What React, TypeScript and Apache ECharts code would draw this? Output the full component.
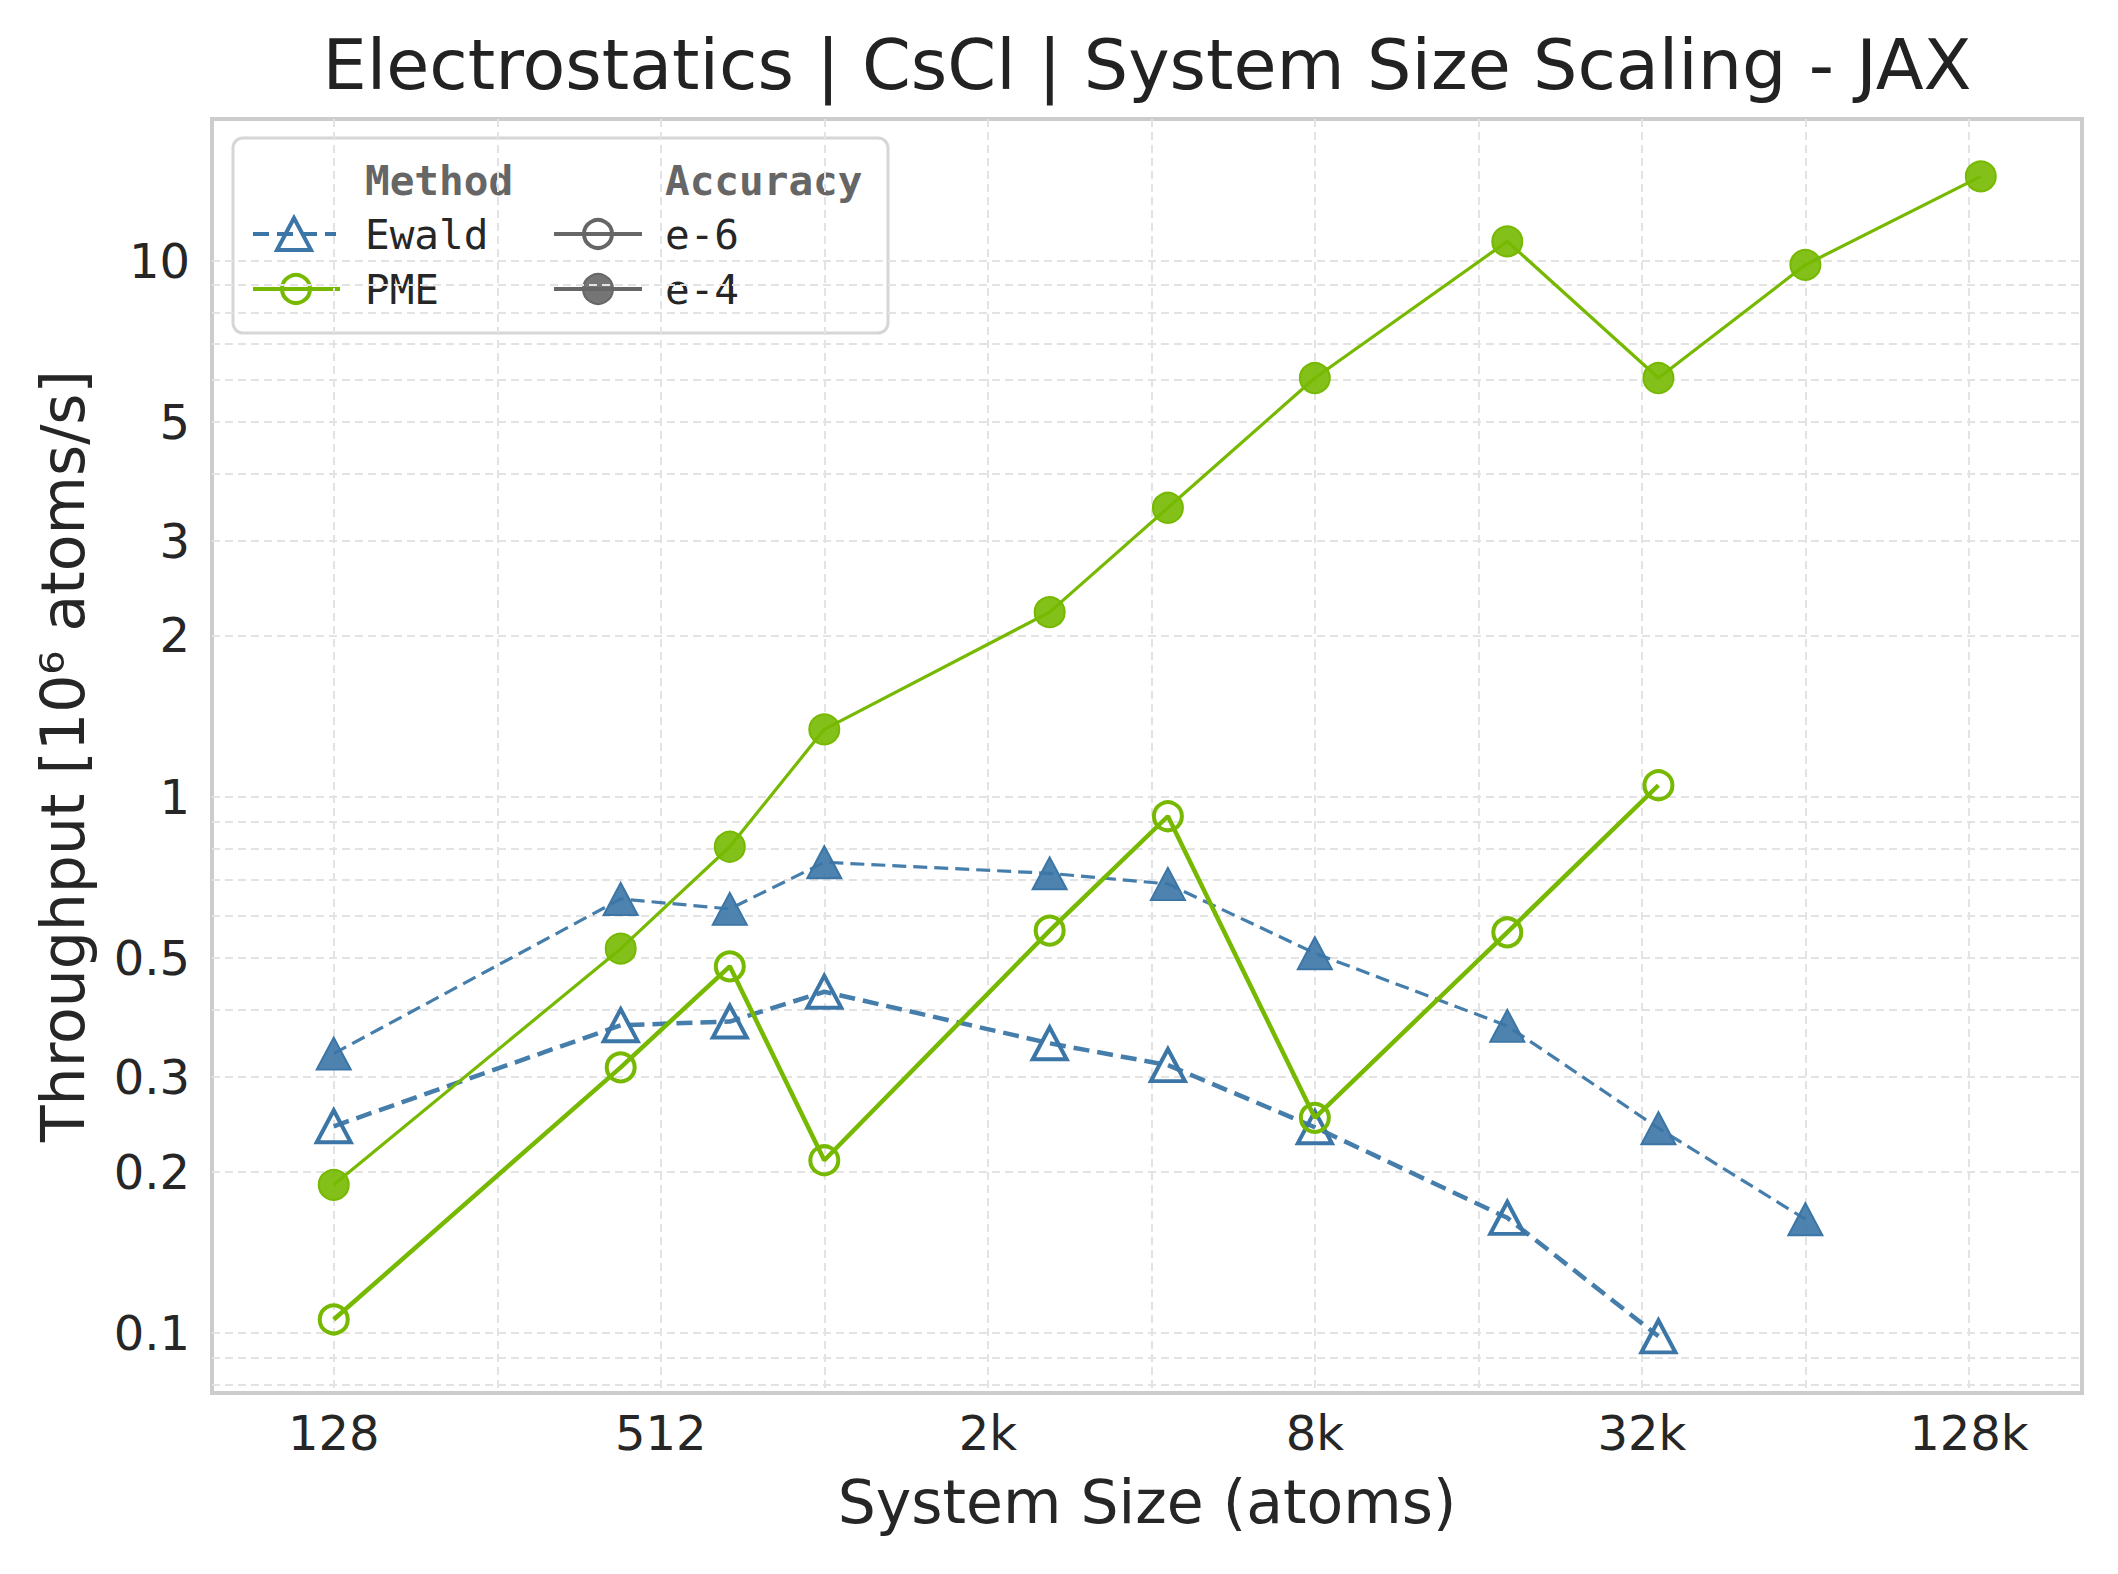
import React, { useEffect, useRef } from "react";
import * as echarts from "echarts";

// system sizes (atoms) for CsCl supercells
const sizes = [128, 432, 686, 1024, 2662, 4394, 8192, 18522, 35152, 65536, 137842];

// throughput in 10^6 atoms/s
const ewaldE6 = [0.243, 0.375, 0.381, 0.433, 0.347, 0.316, 0.242, 0.164, 0.0986];
const ewaldE4 = [0.332, 0.645, 0.618, 0.755, 0.72, 0.688, 0.511, 0.374, 0.241, 0.163];
const pmeE6 = [0.106, 0.313, 0.483, 0.21, 0.563, 0.92, 0.252, 0.559, 1.051];
const pmeE4 = [0.189, 0.521, 0.807, 1.336, 2.21, 3.46, 6.04, 10.86, 6.04, 9.82, 14.36];

const xTickLabels = [128, 512, 2048, 8192, 32768, 131072];
const xGridValues = [128, 256, 512, 1024, 2048, 4096, 8192, 16384, 32768, 65536, 131072];
const yTickLabels = [0.1, 0.2, 0.3, 0.5, 1, 2, 3, 5, 10];
const yGridValues = [
  0.08, 0.09, 0.1, 0.2, 0.3, 0.4, 0.5, 0.6, 0.7, 0.8, 0.9,
  1, 2, 3, 4, 5, 6, 7, 8, 9, 10,
];

const BLUE = "#3b76a6";
const GREEN = "#76b900";
const GRAY = "#666666";
const TEXT = "#262626";

const pairs = (ys: number[]) => ys.map((y, i) => [sizes[i], y]);

const App: React.FC = () => {
  const chartRef = useRef<HTMLDivElement>(null);

  useEffect(() => {
    if (!chartRef.current) return;
    document.body.style.margin = "0";
    const chart = echarts.init(chartRef.current, null, { renderer: "svg" });

    const gridLine = { show: true, lineStyle: { color: "#e3e3e3", width: 2, type: [8, 5] as any } };
    const mono = "'DejaVu Sans Mono', monospace";

    const option: echarts.EChartsOption = {
      animation: false,
      backgroundColor: "#ffffff",
      textStyle: { fontFamily: "'DejaVu Sans', sans-serif" },
      grid: {
        left: 212,
        right: 36,
        top: 119,
        bottom: 181,
        show: true,
        borderColor: "#cccccc",
        borderWidth: 4,
        backgroundColor: "#ffffff",
      },
      xAxis: {
        type: "log",
        logBase: 2,
        min: 76.4,
        max: 211700,
        axisLine: { show: false },
        axisTick: { show: false, customValues: xGridValues } as any,
        axisLabel: {
          customValues: xTickLabels,
          fontSize: 48,
          color: TEXT,
          margin: 16,
          formatter: (v: number) => (v >= 1024 ? `${Math.round(v / 1024)}k` : `${Math.round(v)}`),
        } as any,
        splitLine: gridLine,
        name: "System Size (atoms)",
        nameLocation: "middle",
        nameGap: 79,
        nameTextStyle: { fontSize: 60, color: TEXT },
      },
      yAxis: {
        type: "log",
        logBase: 10,
        min: 0.0773,
        max: 18.37,
        axisLine: { show: false },
        axisTick: { show: false, customValues: yGridValues } as any,
        axisLabel: {
          customValues: yTickLabels,
          fontSize: 48,
          color: TEXT,
          margin: 22,
          formatter: (v: number) => `${Number(v.toPrecision(3))}`,
        } as any,
        splitLine: gridLine,
        name: "Throughput [10\u2076 atoms/s]",
        nameLocation: "middle",
        nameGap: 119,
        nameTextStyle: { fontSize: 60, color: TEXT },
      },
      series: [
        {
          name: "Ewald e-6",
          type: "line",
          data: pairs(ewaldE6),
          symbol: "triangle",
          symbolSize: [34, 32],
          lineStyle: { color: BLUE, width: 4.5, type: [16, 8] as any, opacity: 0.95 },
          itemStyle: { color: "rgba(255,255,255,0)", borderColor: BLUE, borderWidth: 4 },
          silent: true,
          z: 2,
        },
        {
          name: "Ewald e-4",
          type: "line",
          data: pairs(ewaldE4),
          symbol: "triangle",
          symbolSize: [34, 32],
          lineStyle: { color: BLUE, width: 3.2, type: [14, 7] as any, opacity: 0.95 },
          itemStyle: { color: "rgba(59,118,166,0.9)", borderColor: BLUE, borderWidth: 2 },
          silent: true,
          z: 2,
        },
        {
          name: "PME e-6",
          type: "line",
          data: pairs(pmeE6),
          symbol: "circle",
          symbolSize: 28,
          lineStyle: { color: GREEN, width: 4.5 },
          itemStyle: { color: "rgba(255,255,255,0)", borderColor: GREEN, borderWidth: 4 },
          silent: true,
          z: 3,
        },
        {
          name: "PME e-4",
          type: "line",
          data: pairs(pmeE4),
          symbol: "circle",
          symbolSize: 30,
          lineStyle: { color: GREEN, width: 3.2 },
          itemStyle: { color: "rgba(118,185,0,0.9)", borderColor: GREEN, borderWidth: 2 },
          silent: true,
          z: 3,
        },
      ],
      graphic: [
        {
          type: "text",
          x: 1147,
          y: 65,
          style: {
            text: "Electrostatics | CsCl | System Size Scaling - JAX",
            fontSize: 70,
            fill: "#222222",
            align: "center",
            verticalAlign: "middle",
            fontFamily: "'DejaVu Sans', sans-serif",
          },
        },
        {
          type: "group",
          z: 100,
          children: [
            {
              type: "rect",
              shape: { x: 233, y: 138, width: 655, height: 195, r: 10 },
              style: { fill: "rgba(255,255,255,0.85)", stroke: "#d6d6d6", lineWidth: 3 },
            },
            {
              type: "text",
              x: 365,
              y: 181,
              style: { text: "Method", fontSize: 41, fontWeight: "bold", fill: GRAY, fontFamily: mono, verticalAlign: "middle" },
            },
            {
              type: "text",
              x: 665,
              y: 181,
              style: { text: "Accuracy", fontSize: 41, fontWeight: "bold", fill: GRAY, fontFamily: mono, verticalAlign: "middle" },
            },
            // Ewald entry
            {
              type: "line",
              shape: { x1: 253, y1: 234, x2: 336, y2: 234 },
              style: { stroke: BLUE, lineWidth: 4, lineDash: [16, 8] },
            },
            {
              type: "polygon",
              shape: { points: [[294, 218], [277, 250], [311, 250]] },
              style: { fill: "rgba(255,255,255,0)", stroke: BLUE, lineWidth: 4 },
            },
            {
              type: "text",
              x: 365,
              y: 235,
              style: { text: "Ewald", fontSize: 41, fill: TEXT, fontFamily: mono, verticalAlign: "middle" },
            },
            // PME entry
            {
              type: "line",
              shape: { x1: 253, y1: 289, x2: 340, y2: 289 },
              style: { stroke: GREEN, lineWidth: 4 },
            },
            {
              type: "circle",
              shape: { cx: 296, cy: 289, r: 14 },
              style: { fill: "rgba(255,255,255,0)", stroke: GREEN, lineWidth: 4 },
            },
            {
              type: "text",
              x: 365,
              y: 290,
              style: { text: "PME", fontSize: 41, fill: TEXT, fontFamily: mono, verticalAlign: "middle" },
            },
            // accuracy e-6
            {
              type: "line",
              shape: { x1: 554, y1: 234, x2: 642, y2: 234 },
              style: { stroke: GRAY, lineWidth: 4 },
            },
            {
              type: "circle",
              shape: { cx: 598, cy: 234, r: 14 },
              style: { fill: "rgba(255,255,255,0)", stroke: GRAY, lineWidth: 4 },
            },
            {
              type: "text",
              x: 665,
              y: 235,
              style: { text: "e-6", fontSize: 41, fill: TEXT, fontFamily: mono, verticalAlign: "middle" },
            },
            // accuracy e-4
            {
              type: "line",
              shape: { x1: 554, y1: 289, x2: 642, y2: 289 },
              style: { stroke: GRAY, lineWidth: 4 },
            },
            {
              type: "circle",
              shape: { cx: 598, cy: 289, r: 15 },
              style: { fill: "rgba(102,102,102,0.9)", stroke: GRAY, lineWidth: 2 },
            },
            {
              type: "text",
              x: 665,
              y: 290,
              style: { text: "e-4", fontSize: 41, fill: TEXT, fontFamily: mono, verticalAlign: "middle" },
            },
          ],
        },
      ],
    };

    chart.setOption(option);

    return () => {
      chart.dispose();
    };
  }, []);

  return <div ref={chartRef} style={{ width: "2118px", height: "1574px" }} />;
};

export default App;
